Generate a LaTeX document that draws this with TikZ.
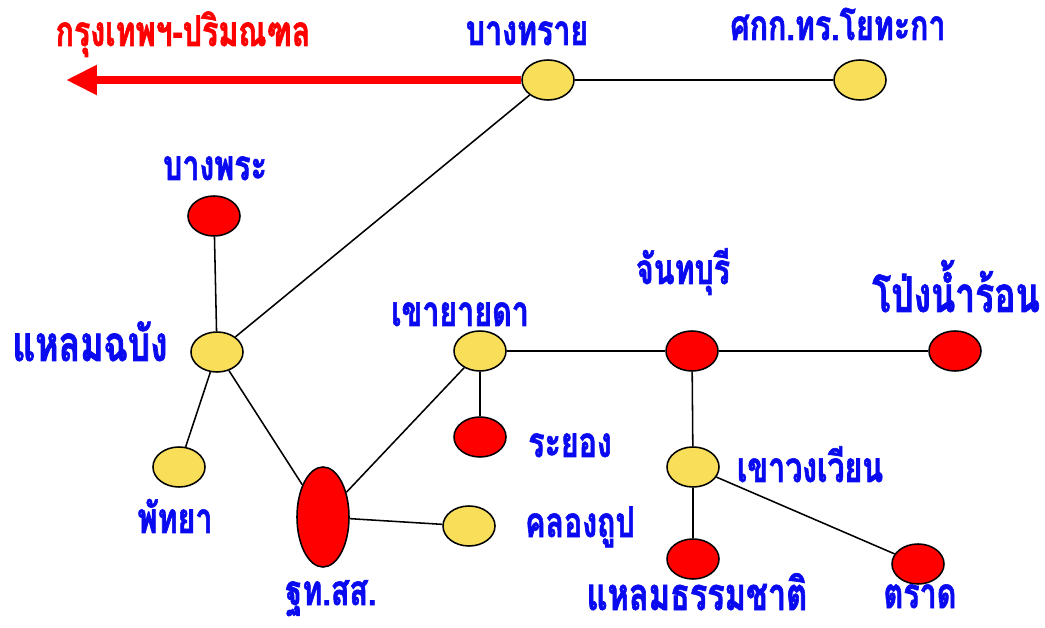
\documentclass[tikz,border=0pt]{standalone}
\usepackage{fontspec}
\newfontfamily\thaifont[Script=Thai,FakeStretch=0.72,BoldFeatures={FakeBold=1.4}]{Loma}
\usepackage{tikz}
\usetikzlibrary{shapes.geometric,arrows.meta}

\definecolor{stnyellow}{RGB}{249,222,89}
\definecolor{lblblue}{RGB}{10,10,240}

\begin{document}
\begin{tikzpicture}[x=0.025cm, y=-0.025cm,
    stn/.style={ellipse, draw, line width=1.1pt, minimum width=1.3cm, minimum height=1cm, inner sep=0pt},
    yel/.style={stn, fill=stnyellow},
    hot/.style={stn, fill=red},
    lbl/.style={text=lblblue, anchor=base, inner sep=0pt, font=\thaifont\bfseries\fontsize{30}{30}\selectfont},
    big/.style={lbl, font=\thaifont\bfseries\fontsize{35}{35}\selectfont},
    link/.style={line width=1.1pt}]
  \useasboundingbox (0,0) rectangle (1045,628);

  % stations
  \node[yel] (bs) at (548,80) {};
  \node[yel] (yt) at (860,80) {};
  \node[hot] (bp) at (214,216) {};
  \node[yel] (lc) at (217,352) {};
  \node[yel] (pt) at (179,467) {};
  \node[hot, minimum height=2.5cm] (ss) at (323,517) {};
  \node[yel] (kt) at (469,526) {};
  \node[yel] (yd) at (480,351) {};
  \node[hot] (ry) at (480,437) {};
  \node[hot] (cb) at (692,351) {};
  \node[hot] (pn) at (955,351) {};
  \node[yel] (ww) at (693,467) {};
  \node[hot] (tc) at (693,559) {};
  \node[hot] (td) at (918,564) {};

  % names
  \node[lbl, text=red] (nbk) at (183,46) {กรุงเทพฯ-ปริมณฑล};
  \node[lbl] (nbs) at (527,45) {บางทราย};
  \node[lbl] (nyt) at (838,40) {ศกก.ทร.โยทะกา};
  \node[lbl] (nbp) at (215,180) {บางพระ};
  \node[big] (nlc) at (90,361) {แหลมฉบัง};
  \node[lbl] (npt) at (175,533) {พัทยา};
  \node[lbl] (nss) at (331,605) {ฐท.สส.};
  \node[lbl] (nkt) at (580,537) {คลองถูป};
  \node[lbl] (nyd) at (460,326) {เขายายดา};
  \node[lbl] (nry) at (570,457) {ระยอง};
  \node[lbl] (ncb) at (683,284) {จันทบุรี};
  \node[big] (npn) at (956,312) {โป่งน้ำร้อน};
  \node[lbl] (nww) at (810,482) {เขาวงเวียน};
  \node[lbl, font=\thaifont\bfseries\fontsize{32}{32}\selectfont] (ntc) at (697,610) {แหลมธรรมชาติ};
  \node[lbl] (ntd) at (920,608) {ตราด};

  % to Bangkok
  \coordinate (bk) at (66,80);
  \draw[red, line width=6pt, -{Triangle[length=22pt, width=20pt]}] (bs) -- (bk);

  % lines
  \draw[link] (bs) -- (yt);
  \draw[link] (bs) -- (lc);
  \draw[link] (bp) -- (lc);
  \draw[link] (lc) -- (pt);
  \draw[link] (lc) -- (ss);
  \draw[link] (ss) -- (yd);
  \draw[link] (ss) -- (kt);
  \draw[link] (yd) -- (ry);
  \draw[link] (yd) -- (cb);
  \draw[link] (cb) -- (pn);
  \draw[link] (cb) -- (ww);
  \draw[link] (ww) -- (tc);
  \draw[link] (ww) -- (td);
\end{tikzpicture}
\end{document}
